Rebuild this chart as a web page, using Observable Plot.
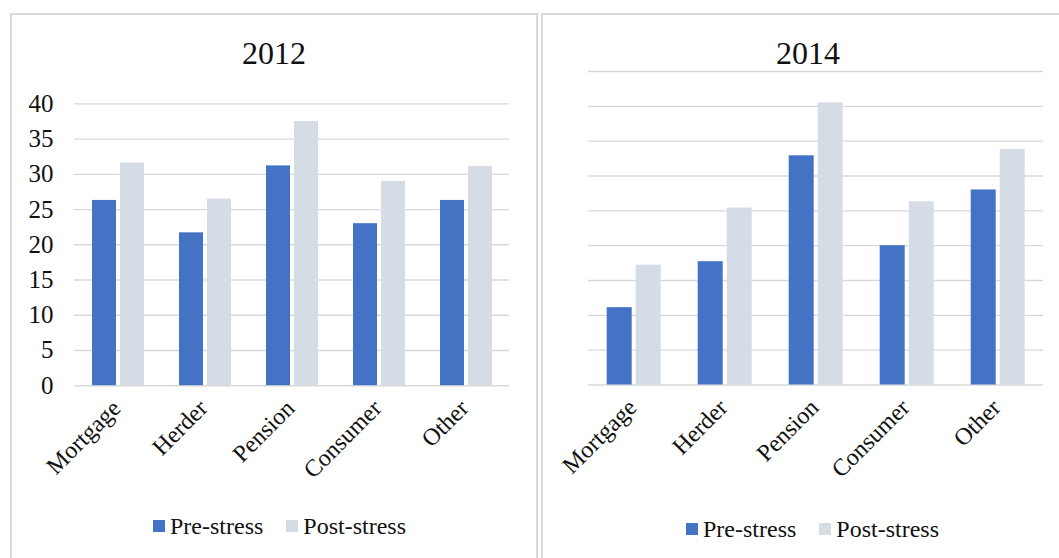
<!DOCTYPE html>
<html>
<head>
<meta charset="utf-8">
<script src="https://cdn.jsdelivr.net/npm/d3@7"></script>
<script src="https://cdn.jsdelivr.net/npm/@observablehq/plot@0.6"></script>
<style>
  html, body { margin: 0; padding: 0; background: #fff; }
  body { width: 1059px; height: 558px; position: relative; overflow: hidden;
         font-family: "Liberation Serif", "Times New Roman", serif; color: #111; }
  .panel { position: absolute; top: 12.5px; height: 620px; box-sizing: border-box;
           border: 2px solid #d9d9d9; }
  .chart { position: absolute; top: 0; }
  .chart svg { display: block; }
  .title { position: absolute; width: 200px; text-align: center; font-size: 32px;
           line-height: 32px; top: 37px; }
  .legend { position: absolute; display: flex; align-items: center; font-size: 24px;
            line-height: 24px; white-space: nowrap; }
  .legend .item { display: flex; align-items: center; margin-right: 23px; }
  .legend .sw { width: 12px; height: 12px; margin-right: 5px; }
</style>
</head>
<body>
<div class="panel" style="left:10px;width:528px"></div>
<div class="panel" style="left:541px;width:620px"></div>
<div id="chart2012" class="chart" style="left:0px"></div>
<div id="chart2014" class="chart" style="left:540px"></div>
<div class="title" style="left:174px">2012</div>
<div class="title" style="left:708px">2014</div>
<div id="legend2012" class="legend" style="left:153px;top:514px"></div>
<div id="legend2014" class="legend" style="left:686px;top:516.5px"></div>

<script>
// Loan categories and the two scenarios
const categories = ["Mortgage", "Herder", "Pension", "Consumer", "Other"];
const series = ["Pre-stress", "Post-stress"];
const seriesColors = ["#4472C4", "#D6DCE5"];

// 2012 values
const pre2012 = [26.3, 21.7, 31.2, 23.0, 26.3];
const post2012 = [31.6, 26.5, 37.5, 29.0, 31.1];

// 2014 values
const pre2014 = [11.1, 17.7, 32.9, 20.0, 28.0];
const post2014 = [17.2, 25.4, 40.5, 26.3, 33.8];

// Value-axis ticks
const ticks2012 = [0, 5, 10, 15, 20, 25, 30, 35, 40];
const ticks2014 = [0, 5, 10, 15, 20, 25, 30, 35, 40, 45];

const serifFont = "'Liberation Serif', 'Times New Roman', serif";

function toRows(pre, post) {
  return categories.flatMap((c, i) => [
    {category: c, series: series[0], value: pre[i]},
    {category: c, series: series[1], value: post[i]}
  ]);
}

function barPanel({pre, post, ticks, showY, width, marginLeft, marginRight, marginTop, marginBottom}) {
  const rows = toRows(pre, post);
  return Plot.plot({
    width,
    height: 470,
    marginLeft, marginRight, marginTop, marginBottom,
    style: {background: "transparent", fontFamily: serifFont, fontSize: "24px", color: "#111", overflow: "visible"},
    fx: {domain: categories, padding: 0, axis: null, label: null},
    x: {domain: series, paddingInner: 0.15, paddingOuter: 0.6, axis: null},
    y: {domain: [0, d3.max(ticks)], axis: null},
    color: {domain: series, range: seriesColors},
    marks: [
      Plot.gridY(ticks, {stroke: "#d9d9d9", strokeOpacity: 1, strokeWidth: 1.4}),
      Plot.barY(rows, {fx: "category", x: "series", y: "value", fill: "series"}),
      Plot.text(categories, {
        fx: d => d, text: d => d, frameAnchor: "bottom",
        rotate: -45, textAnchor: "end", dx: 4, dy: 24,
        fontSize: 24, fontFamily: serifFont, fill: "#111"
      }),
      showY ? Plot.axisY(ticks, {tickSize: 0, tickPadding: 21, fontSize: 25, fontFamily: serifFont, fill: "#111", label: null}) : null
    ]
  });
}

function legend(el) {
  series.forEach((s, i) => {
    const item = document.createElement("div");
    item.className = "item";
    const sw = document.createElement("div");
    sw.className = "sw";
    sw.style.background = seriesColors[i];
    const label = document.createElement("span");
    label.textContent = s;
    item.append(sw, label);
    el.append(item);
  });
}

document.getElementById("chart2012").append(barPanel({
  pre: pre2012, post: post2012, ticks: ticks2012, showY: true,
  width: 540, marginLeft: 73, marginRight: 31, marginTop: 103.4, marginBottom: 84.8
}));
document.getElementById("chart2014").append(barPanel({
  pre: pre2014, post: post2014, ticks: ticks2014, showY: false,
  width: 519, marginLeft: 48.3, marginRight: 15.7, marginTop: 71, marginBottom: 85.5
}));
legend(document.getElementById("legend2012"));
legend(document.getElementById("legend2014"));
</script>
</body>
</html>
